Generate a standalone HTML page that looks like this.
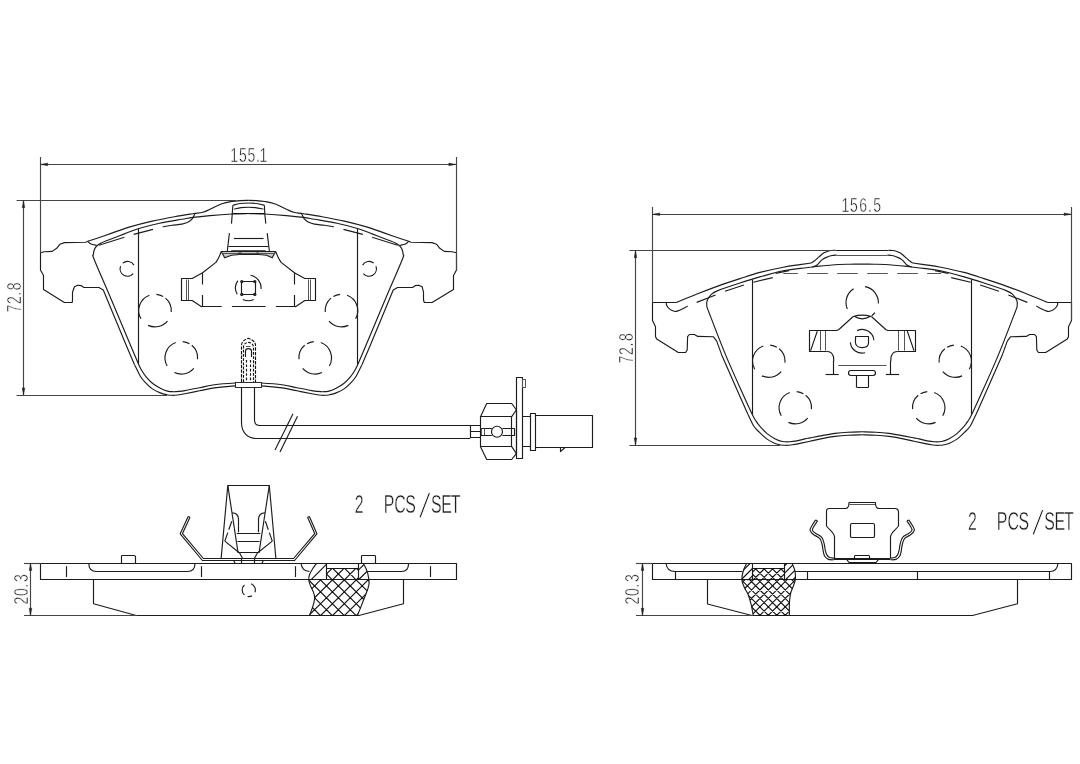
<!DOCTYPE html>
<html lang="en">
<head>
<meta charset="utf-8">
<title>Brake pad set - dimensional drawing</title>
<style>
html,body{margin:0;padding:0;background:#fff;width:1080px;height:764px;overflow:hidden}
svg{display:block;background:#fff;will-change:transform;filter:grayscale(1)}
.l{fill:none;stroke:#1c1c1c;stroke-width:1.15;stroke-linecap:butt;stroke-linejoin:round}
.g{fill:none;stroke:#555;stroke-width:1}
#dimensions .l{stroke:#444}
.h{fill:none;stroke:#111;stroke-width:1.15}
.k{fill:#333;stroke:none}
.w{fill:#fff;stroke:#2b2b2b;stroke-width:1}
.a{fill:#222;stroke:#222;stroke-width:.4}
.t{font-family:"Liberation Sans",sans-serif;fill:#1e1e1e;stroke:#fff;stroke-width:.4px;vector-effect:non-scaling-stroke}
.t .sl{stroke-width:1.1px}
</style>
</head>
<body>
<svg width="1080" height="764" viewBox="0 0 1080 764" role="img" aria-label="Brake pad dimensional drawing">
<rect x="0" y="0" width="1080" height="764" fill="#fff"/>
<g id="front-pad-left">
<path class="l" d="M87.8,241.3 L85.6,242.2 L64.4,242.6 L60,244.2 L56.7,248.3 L52.2,251.4 L44.4,251.7 L40.5,252.8 L40.5,270 L43.5,275.6 L43.5,289.4 L64.4,302.5 L72.2,302.5 L72.5,300 L72.5,292.2 L74.4,286.7 L77.8,285.2 L81.1,285.6 L83.9,287.5 L98.9,287.5 L103.3,290 L107.4,300 L126.1,345 L134.4,364.4"/>
<path class="l" d="M87.8,241.3 C89.83,240.62 95.88,238.6 100,237.2 C104.12,235.8 107.5,234.62 112.5,232.9 C117.5,231.18 123.38,228.87 130,226.9 C136.62,224.93 144.8,222.8 152.2,221.1 C159.6,219.4 167.6,217.93 174.4,216.7 C181.2,215.47 188.3,214.43 193,213.7 C197.7,212.97 199.77,213.03 202.6,212.3 C205.43,211.57 206.77,210.72 210,209.3 C213.23,207.88 218.38,205.1 222,203.8 C225.62,202.5 228.7,202.03 231.7,201.5 C234.7,200.97 237.24,200.78 240,200.6 C242.76,200.42 246.88,200.43 248.25,200.4"/>
<path class="l" d="M134.4,364.4 C135.37,366.33 138.4,373 140.2,376 C142,379 143.17,380.25 145.2,382.4 C147.23,384.55 149.88,387.15 152.4,388.9 C154.92,390.65 157.9,391.93 160.3,392.9 C162.7,393.87 164.87,394.3 166.8,394.7 C168.73,395.1 170.1,395.25 171.9,395.3 C173.7,395.35 175.45,395.25 177.6,395 C179.75,394.75 181.13,394.5 184.8,393.8 C188.47,393.1 194.67,391.78 199.6,390.8 C204.53,389.82 208.47,388.72 214.4,387.9 C220.33,387.08 229.56,386.28 235.2,385.9 C240.84,385.52 246.07,385.65 248.25,385.6"/>
<path class="l" d="M408.7,241.3 L410.9,242.2 L432.1,242.6 L436.5,244.2 L439.8,248.3 L444.3,251.4 L452.1,251.7 L456.5,252.8 L456.5,270 L453.5,275.6 L453.5,289.4 L432.1,302.5 L424.3,302.5 L423.5,300 L423.5,292.2 L422.1,286.7 L418.7,285.2 L415.4,285.6 L412.6,287.5 L397.6,287.5 L393.2,290 L389.1,300 L370.4,345 L362.1,364.4"/>
<path class="l" d="M408.7,241.3 C406.67,240.62 400.62,238.6 396.5,237.2 C392.38,235.8 389,234.62 384,232.9 C379,231.18 373.12,228.87 366.5,226.9 C359.88,224.93 351.7,222.8 344.3,221.1 C336.9,219.4 328.9,217.93 322.1,216.7 C315.3,215.47 308.2,214.43 303.5,213.7 C298.8,212.97 296.73,213.03 293.9,212.3 C291.07,211.57 289.73,210.72 286.5,209.3 C283.27,207.88 278.12,205.1 274.5,203.8 C270.88,202.5 267.8,202.03 264.8,201.5 C261.8,200.97 259.26,200.78 256.5,200.6 C253.74,200.42 249.62,200.43 248.25,200.4"/>
<path class="l" d="M362.1,364.4 C361.13,366.33 358.1,373 356.3,376 C354.5,379 353.33,380.25 351.3,382.4 C349.27,384.55 346.62,387.15 344.1,388.9 C341.58,390.65 338.6,391.93 336.2,392.9 C333.8,393.87 331.63,394.3 329.7,394.7 C327.77,395.1 326.4,395.25 324.6,395.3 C322.8,395.35 321.05,395.25 318.9,395 C316.75,394.75 315.37,394.5 311.7,393.8 C308.03,393.1 301.83,391.78 296.9,390.8 C291.97,389.82 288.03,388.72 282.1,387.9 C276.17,387.08 266.94,386.28 261.3,385.9 C255.66,385.52 250.43,385.65 248.25,385.6"/>
<path class="l" d="M248.25,382.8 C246.07,382.83 240.84,382.68 235.2,383 C229.56,383.32 220.33,383.92 214.4,384.7 C208.47,385.48 204.53,386.72 199.6,387.7 C194.67,388.68 188.23,389.98 184.8,390.6 C181.37,391.22 180.92,391.22 179,391.4 C177.08,391.58 175.22,391.75 173.3,391.7 C171.38,391.65 169.67,391.68 167.5,391.1 C165.33,390.52 162.82,389.52 160.3,388.2 C157.78,386.88 154.8,385.12 152.4,383.2 C150,381.28 147.7,378.87 145.9,376.7 C144.1,374.53 142.8,372.25 141.6,370.2 C140.4,368.15 140.57,368.6 138.7,364.4 C136.83,360.2 134.93,355.73 130.4,345 C125.87,334.27 117.5,314.17 111.5,300 C105.5,285.83 97.42,267.58 94.4,260 C91.38,252.42 93.4,256.25 93.4,254.5 C93.4,252.75 93.85,250.92 94.4,249.5 C94.95,248.08 95.58,247.08 96.7,246 C97.82,244.92 99.25,243.97 101.1,243 C102.95,242.03 103.92,241.72 107.8,240.2 C111.68,238.68 119.22,235.85 124.4,233.9 C129.58,231.95 133.03,230.27 138.9,228.5 C144.77,226.73 152.43,224.83 159.6,223.3 C166.77,221.77 176.33,220.28 181.9,219.3 C187.47,218.32 188.32,218.02 193,217.4 C197.68,216.78 203.5,216.17 210,215.6 C216.5,215.03 225.62,214.35 232,214 C238.38,213.65 245.54,213.58 248.25,213.5"/>
<path class="l" d="M248.25,382.8 C250.43,382.83 255.66,382.68 261.3,383 C266.94,383.32 276.17,383.92 282.1,384.7 C288.03,385.48 291.97,386.72 296.9,387.7 C301.83,388.68 308.27,389.98 311.7,390.6 C315.13,391.22 315.58,391.22 317.5,391.4 C319.42,391.58 321.28,391.75 323.2,391.7 C325.12,391.65 326.83,391.68 329,391.1 C331.17,390.52 333.68,389.52 336.2,388.2 C338.72,386.88 341.7,385.12 344.1,383.2 C346.5,381.28 348.8,378.87 350.6,376.7 C352.4,374.53 353.7,372.25 354.9,370.2 C356.1,368.15 355.93,368.6 357.8,364.4 C359.67,360.2 361.57,355.73 366.1,345 C370.63,334.27 379,314.17 385,300 C391,285.83 399.08,267.58 402.1,260 C405.12,252.42 403.1,256.25 403.1,254.5 C403.1,252.75 402.65,250.92 402.1,249.5 C401.55,248.08 400.92,247.08 399.8,246 C398.68,244.92 397.25,243.97 395.4,243 C393.55,242.03 392.58,241.72 388.7,240.2 C384.82,238.68 377.28,235.85 372.1,233.9 C366.92,231.95 363.47,230.27 357.6,228.5 C351.73,226.73 344.07,224.83 336.9,223.3 C329.73,221.77 320.17,220.28 314.6,219.3 C309.03,218.32 308.18,218.02 303.5,217.4 C298.82,216.78 293,216.17 286.5,215.6 C280,215.03 270.88,214.35 264.5,214 C258.12,213.65 250.96,213.58 248.25,213.5"/>
<path class="l" d="M87.8,241.3 C88.33,241.75 89.52,243.33 91,244 C92.48,244.67 95.75,245.08 96.7,245.3"/>
<path class="l" d="M408.7,241.3 C408.17,241.75 406.98,243.33 405.5,244 C404.02,244.67 400.75,245.08 399.8,245.3"/>
<path class="l" d="M138.5,228.5 L138.5,364.4"/>
<path class="l" d="M357.5,228.5 L357.5,364.4"/>
<path class="l" d="M98.9,245.3 L124.4,237.2"/>
<path class="l" d="M133.7,234.4 L153,229.4"/>
<path class="l" d="M162.6,226.8 C164.17,226.55 168.78,225.75 172,225.3 C175.22,224.85 179.27,224.62 181.9,224.1 C184.53,223.58 186.08,223.07 187.8,222.2 C189.52,221.33 191.1,220.13 192.2,218.9 C193.3,217.67 193.9,215.73 194.4,214.8 C194.9,213.87 195.07,213.55 195.2,213.3"/>
<path class="l" d="M397.6,245.3 L372.1,237.2"/>
<path class="l" d="M362.8,234.4 L343.5,229.4"/>
<path class="l" d="M333.9,226.8 C332.33,226.55 327.72,225.75 324.5,225.3 C321.28,224.85 317.23,224.62 314.6,224.1 C311.97,223.58 310.42,223.07 308.7,222.2 C306.98,221.33 305.4,220.13 304.3,218.9 C303.2,217.67 302.6,215.73 302.1,214.8 C301.6,213.87 301.43,213.55 301.3,213.3"/>
<path class="l" d="M133.17,273.56 A7.4,7.4 0 0 1 120.55,266.27 M122.74,263.13 A7.4,7.4 0 0 1 133.91,265.1"/>
<path class="l" d="M375.95,266.27 A7.4,7.4 0 0 1 363.33,273.56 M362.59,265.1 A7.4,7.4 0 0 1 373.76,263.13"/>
<path class="l" d="M165.48,298.11 A16.3,16.3 0 0 1 171.24,312.02 M167.49,321.08 A16.3,16.3 0 0 1 148.11,325.37 M140.88,318.75 A16.3,16.3 0 0 1 149.43,295.28 M156.42,294.36 A16.3,16.3 0 0 1 163.15,296.48"/>
<path class="l" d="M325.26,312.02 A16.3,16.3 0 0 1 331.02,298.11 M348.39,325.37 A16.3,16.3 0 0 1 329.01,321.08 M347.07,295.28 A16.3,16.3 0 0 1 355.62,318.75 M333.35,296.48 A16.3,16.3 0 0 1 340.08,294.36"/>
<path class="l" d="M191.78,345.31 A16.3,16.3 0 0 1 197.54,359.22 M193.79,368.28 A16.3,16.3 0 0 1 174.41,372.57 M167.18,365.95 A16.3,16.3 0 0 1 175.73,342.48 M182.72,341.56 A16.3,16.3 0 0 1 189.45,343.68"/>
<path class="l" d="M298.96,359.22 A16.3,16.3 0 0 1 304.72,345.31 M322.09,372.57 A16.3,16.3 0 0 1 302.71,368.28 M320.77,342.48 A16.3,16.3 0 0 1 329.32,365.95 M307.05,343.68 A16.3,16.3 0 0 1 313.78,341.56"/>
</g>
<g id="front-pad-clip">
<path class="l" d="M232.9,205.2 C234.08,204.92 237.44,203.87 240,203.5 C242.56,203.13 245.5,203 248.25,203 C251,203 253.81,203.13 256.5,203.5 C259.19,203.87 263.08,204.92 264.4,205.2"/>
<path class="l" d="M234.2,209.1 C235.33,208.85 238.66,207.92 241,207.6 C243.34,207.28 245.83,207.2 248.25,207.2 C250.67,207.2 252.97,207.28 255.5,207.6 C258.02,207.92 262.08,208.85 263.4,209.1"/>
<path class="h" d="M232.2,213.5 L264.8,213.5" stroke-width="1.5"/>
<path class="l" d="M232.9,205.2 L232.2,214.3 L231.5,223.6"/>
<path class="l" d="M264.4,205.2 L264.8,214.3 L265.8,223.6"/>
<path class="l" d="M229.4,233.1 L227.3,251.3"/>
<path class="l" d="M267.2,233.1 L269.4,251.3"/>
<path class="l" d="M233.9,238.5 L263.6,238.5"/>
<path class="l" d="M228.5,246.5 L268.6,246.5"/>
<path class="g" d="M231.2,250.5 L265.7,250.5" stroke-width="1.8" stroke="#8a8a8a"/>
<path class="l" d="M221.2,251.5 L275.7,251.5 L272.2,257.8 L266.5,255.3 L258.9,254.5 L239.6,254.5 L231.6,255.3 L224.7,257.8 Z" style="fill:#c9c9c9"/>
<path class="g" d="M222.5,253.5 L274.5,253.5"/>
<rect class="k" x="238.5" y="252.5" width="3" height="2"/>
<rect class="k" x="256.5" y="252.5" width="2" height="2"/>
<path class="l" d="M221.1,252 C220.73,252.87 219.77,255.47 218.9,257.2 C218.03,258.93 216.4,261.53 215.9,262.4 L215.9,262.4 L202.6,272.8 L192.2,278.5 L181.5,278.5 L181.5,300.5 L192.2,300.5 L201.9,306.9"/>
<path class="l" d="M275.9,252 C276.27,252.87 277.23,255.47 278.1,257.2 C278.97,258.93 280.6,261.53 281.1,262.4 L281.1,262.4 L294.4,272.8 L304.8,278.5 L315.5,278.5 L315.5,300.5 L304.8,300.5 L295.1,306.9"/>
<path class="g" d="M186.5,279.5 L186.5,300"/>
<path class="g" d="M188.5,279.5 L188.5,300"/>
<path class="g" d="M310.5,279.5 L310.5,300"/>
<path class="g" d="M308.5,279.5 L308.5,300"/>
<path class="l" d="M201.3,306.5 H221.7 M231.9,306.5 H265.6 M275.9,306.5 H294.8"/>
<path class="l" d="M202.5,272.8 V284.6 M202.5,295 V306.9 M294.5,272.8 V284.6 M294.5,295 V306.9"/>
<rect class="l" x="241.5" y="281.5" width="14" height="13" rx="0.8"/>
<circle class="l" cx="241.8" cy="281.6" r="1.1"/>
<circle class="l" cx="254.8" cy="281.6" r="1.1"/>
<circle class="l" cx="241.8" cy="294.4" r="1.1"/>
<circle class="l" cx="254.8" cy="294.4" r="1.1"/>
<path class="l" d="M237.21,294.3 A12.8,12.8 0 0 1 237.81,280.56 M250.52,275.29 A12.8,12.8 0 0 1 261.05,289.02 M253.71,299.5 A12.8,12.8 0 0 1 242.89,299.5"/>
</g>
<g id="wear-sensor">
<path class="h" d="M241.5,382 V345.5 C241.5,341.5 244.5,339.6 248.3,338.3 C252.1,339.6 255.5,341.5 255.5,345.5 V382" stroke-width="1.7" stroke-dasharray="3.4 1.2"/>
<path class="h" d="M243.5,382 V347.5 C243.5,344 245.8,342.6 248.3,342.4 C250.8,342.6 253.5,344 253.5,347.5 V382" stroke-width="1.5" stroke-dasharray="2.8 1.4"/>
<path class="l" d="M245.5,357 V351 C245.5,349.4 246.6,348.6 248.3,348.6 C250,348.6 251.5,349.4 251.5,351 V357"/>
<path class="h" d="M246.5,360 V382 M250.5,360 V382" stroke-width="1.4" stroke-dasharray="2.6 1.8"/>
<path class="g" d="M246,346.5 L250.6,346.5"/>
<rect class="w" x="235.5" y="382.5" width="26" height="5"/>
<path class="l" d="M241.5,387.3 V422.5 C241.5,432 247,438.5 257,438.5 H470"/>
<path class="l" d="M254.5,387.3 V420 C254.5,423.4 256.4,425.5 259.4,425.5 H470"/>
<path class="l" d="M275,450 L293,413.8"/>
<path class="l" d="M280,452 L297.5,416.3"/>
</g>
<g id="sensor-connector">
<path class="l" d="M470.5,425.2 V438.3 M470,425.5 H480 M470,437.5 H480 M470,431.5 H480"/>
<path class="l" d="M480.5,416.7 L486.7,403.5 L511.7,403.5 L516.5,410 L516.5,453.3 L511.7,459.5 L486.7,459.5 L480.5,446.7 Z"/>
<path class="l" d="M480,416.5 H511.5 V446.5 H480 M511.7,416.7 L516.3,410 M511.7,446.7 L516.3,453.3"/>
<path class="l" d="M480,428.5 H491.8 M502.4,428.5 H514.5 V435.5 H502.4 M491.8,435.5 H480"/>
<path class="g" d="M481.5,428.4 V435 M484.5,428.4 V435"/>
<circle class="l" cx="497" cy="431.7" r="5.5"/>
<rect class="l" x="516.5" y="377.5" width="6" height="81"/>
<rect class="g" x="522.5" y="379.5" width="3" height="8"/>
<path class="l" d="M522,416.5 H530.4 M522,446.5 H530.4"/>
<rect class="l" x="530.5" y="413.5" width="5" height="37"/>
<path class="l" d="M535.8,415.5 H592.5 V447.5 H535.8"/>
<path class="l" d="M560.5,447.5 L560.5,451.6 L565,447.5"/>
</g>
<g id="front-pad-right">
<path class="l" d="M676.7,302.5 L652.5,302.5 L652.5,320.6 L655.5,326.7 L655.5,336.7 L656.7,338.9 L678.3,352.5 L685.6,352.5 L687.2,350 L687.6,336.7 L689.4,334.5 L694.4,334.5 L697.8,336.4 L713.3,336.7 L716.7,341.1 L721.7,354.9 L739.3,395 L748,414.4"/>
<path class="l" d="M676.7,302.4 C680.08,301 690.15,296.72 697,294 C703.85,291.28 710.63,288.67 717.8,286.1 C724.97,283.53 732.97,280.88 740,278.6 C747.03,276.32 752.78,274.3 760,272.4 C767.22,270.5 776.63,268.5 783.3,267.2 C789.97,265.9 795.37,265.3 800,264.6 C804.63,263.9 809.25,263.27 811.1,263"/>
<path class="l" d="M811.1,263 C811.68,262.63 812.93,262.13 814.6,260.8 C816.27,259.47 819.45,256.37 821.1,255 C822.75,253.63 823.38,253.23 824.5,252.6 C825.62,251.97 826.72,251.55 827.8,251.2 C828.88,250.85 829.7,250.65 831,250.5 C832.3,250.35 834.83,250.33 835.6,250.3"/>
<path class="l" d="M748,414.4 C748.95,416.33 751.78,423 753.7,426 C755.62,429 757.33,430.25 759.5,432.4 C761.67,434.55 764.3,437.15 766.7,438.9 C769.1,440.65 771.75,441.93 773.9,442.9 C776.05,443.87 777.68,444.3 779.6,444.7 C781.52,445.1 783.23,445.28 785.4,445.3 C787.57,445.32 790.2,445.12 792.6,444.8 C795,444.48 796.9,444 799.8,443.4 C802.7,442.8 806.3,442 810,441.2 C813.7,440.4 817.83,439.4 822,438.6 C826.17,437.8 830.67,436.97 835,436.4 C839.33,435.83 843.5,435.47 848,435.2 C852.5,434.93 859.67,434.87 862,434.8"/>
<path class="l" d="M862,431.8 C859.67,431.87 852.5,431.93 848,432.2 C843.5,432.47 839.33,432.83 835,433.4 C830.67,433.97 826.17,434.85 822,435.6 C817.83,436.35 812.83,437.35 810,437.9 C807.17,438.45 807.18,438.4 805,438.9 C802.82,439.4 799.45,440.42 796.9,440.9 C794.35,441.38 792.1,441.7 789.7,441.8 C787.3,441.9 784.9,441.98 782.5,441.5 C780.1,441.02 777.82,440.17 775.3,438.9 C772.78,437.63 769.92,435.93 767.4,433.9 C764.88,431.87 762.12,428.87 760.2,426.7 C758.28,424.53 757.22,422.95 755.9,420.9 C754.58,418.85 754.4,418.72 752.3,414.4 C750.2,410.08 747.75,404.92 743.3,395 C738.85,385.08 731.33,368.7 725.6,354.9 C719.87,341.1 712.02,320.35 708.9,312.2 C705.78,304.05 707.18,307.95 706.9,306 C706.62,304.05 706.5,302.4 707.2,300.5 C707.9,298.6 709.33,296.25 711.1,294.6 C712.87,292.95 712.98,292.53 717.8,290.6 C722.62,288.67 732.98,285.28 740,283 C747.02,280.72 752.68,278.93 759.9,276.9 C767.12,274.87 776.62,272.22 783.3,270.8 C789.98,269.38 795.18,269.03 800,268.4 C804.82,267.77 810.17,267.23 812.2,267"/>
<path class="l" d="M812.2,267 C812.95,266.7 815.03,266.43 816.7,265.2 C818.37,263.97 820.35,261 822.2,259.6 C824.05,258.2 826.17,257.48 827.8,256.8 C829.43,256.12 830.52,255.78 832,255.5 C833.48,255.22 835.92,255.17 836.7,255.1"/>
<path class="l" d="M812.2,267 C812.95,266.9 812.25,266.82 816.7,266.4 C821.15,265.98 833.35,264.87 838.9,264.5 C844.45,264.13 846.15,264.27 850,264.2 C853.85,264.13 860,264.12 862,264.1"/>
<path class="l" d="M666.4,302.4 C666.45,302.93 666.1,304.43 666.7,305.6 C667.3,306.77 668.72,308.45 670,309.4 C671.28,310.35 673.1,311.05 674.4,311.3 C675.7,311.55 675.57,311.77 677.8,310.9 C680.03,310.03 686.13,306.9 687.8,306.1"/>
<path class="l" d="M696.7,302.4 L715.6,295"/>
<path class="l" d="M725,291.2 L743.9,285"/>
<path class="l" d="M753.3,282.2 L772.8,277.6"/>
<path class="l" d="M775.6,273.4 L789,270.6"/>
<path class="l" d="M1047.3,302.5 L1071.5,302.5 L1071.5,320.6 L1068.5,326.7 L1068.5,336.7 L1067.3,338.9 L1045.7,352.5 L1038.4,352.5 L1036.8,350 L1036.4,336.7 L1034.6,334.5 L1029.6,334.5 L1026.2,336.4 L1010.7,336.7 L1007.3,341.1 L1002.3,354.9 L984.7,395 L976,414.4"/>
<path class="l" d="M1047.3,302.4 C1043.92,301 1033.85,296.72 1027,294 C1020.15,291.28 1013.37,288.67 1006.2,286.1 C999.03,283.53 991.03,280.88 984,278.6 C976.97,276.32 971.22,274.3 964,272.4 C956.78,270.5 947.37,268.5 940.7,267.2 C934.03,265.9 928.63,265.3 924,264.6 C919.37,263.9 914.75,263.27 912.9,263"/>
<path class="l" d="M912.9,263 C912.32,262.63 911.07,262.13 909.4,260.8 C907.73,259.47 904.55,256.37 902.9,255 C901.25,253.63 900.62,253.23 899.5,252.6 C898.38,251.97 897.28,251.55 896.2,251.2 C895.12,250.85 894.3,250.65 893,250.5 C891.7,250.35 889.17,250.33 888.4,250.3"/>
<path class="l" d="M976,414.4 C975.05,416.33 972.22,423 970.3,426 C968.38,429 966.67,430.25 964.5,432.4 C962.33,434.55 959.7,437.15 957.3,438.9 C954.9,440.65 952.25,441.93 950.1,442.9 C947.95,443.87 946.32,444.3 944.4,444.7 C942.48,445.1 940.77,445.28 938.6,445.3 C936.43,445.32 933.8,445.12 931.4,444.8 C929,444.48 927.1,444 924.2,443.4 C921.3,442.8 917.7,442 914,441.2 C910.3,440.4 906.17,439.4 902,438.6 C897.83,437.8 893.33,436.97 889,436.4 C884.67,435.83 880.5,435.47 876,435.2 C871.5,434.93 864.33,434.87 862,434.8"/>
<path class="l" d="M862,431.8 C864.33,431.87 871.5,431.93 876,432.2 C880.5,432.47 884.67,432.83 889,433.4 C893.33,433.97 897.83,434.85 902,435.6 C906.17,436.35 911.17,437.35 914,437.9 C916.83,438.45 916.82,438.4 919,438.9 C921.18,439.4 924.55,440.42 927.1,440.9 C929.65,441.38 931.9,441.7 934.3,441.8 C936.7,441.9 939.1,441.98 941.5,441.5 C943.9,441.02 946.18,440.17 948.7,438.9 C951.22,437.63 954.08,435.93 956.6,433.9 C959.12,431.87 961.88,428.87 963.8,426.7 C965.72,424.53 966.78,422.95 968.1,420.9 C969.42,418.85 969.6,418.72 971.7,414.4 C973.8,410.08 976.25,404.92 980.7,395 C985.15,385.08 992.67,368.7 998.4,354.9 C1004.13,341.1 1011.98,320.35 1015.1,312.2 C1018.22,304.05 1016.82,307.95 1017.1,306 C1017.38,304.05 1017.5,302.4 1016.8,300.5 C1016.1,298.6 1014.67,296.25 1012.9,294.6 C1011.13,292.95 1011.02,292.53 1006.2,290.6 C1001.38,288.67 991.02,285.28 984,283 C976.98,280.72 971.32,278.93 964.1,276.9 C956.88,274.87 947.38,272.22 940.7,270.8 C934.02,269.38 928.82,269.03 924,268.4 C919.18,267.77 913.83,267.23 911.8,267"/>
<path class="l" d="M911.8,267 C911.05,266.7 908.97,266.43 907.3,265.2 C905.63,263.97 903.65,261 901.8,259.6 C899.95,258.2 897.83,257.48 896.2,256.8 C894.57,256.12 893.48,255.78 892,255.5 C890.52,255.22 888.08,255.17 887.3,255.1"/>
<path class="l" d="M911.8,267 C911.05,266.9 911.75,266.82 907.3,266.4 C902.85,265.98 890.65,264.87 885.1,264.5 C879.55,264.13 877.85,264.27 874,264.2 C870.15,264.13 864,264.12 862,264.1"/>
<path class="l" d="M1057.6,302.4 C1057.55,302.93 1057.9,304.43 1057.3,305.6 C1056.7,306.77 1055.28,308.45 1054,309.4 C1052.72,310.35 1050.9,311.05 1049.6,311.3 C1048.3,311.55 1048.43,311.77 1046.2,310.9 C1043.97,310.03 1037.87,306.9 1036.2,306.1"/>
<path class="l" d="M1027.3,302.4 L1008.4,295"/>
<path class="l" d="M999,291.2 L980.1,285"/>
<path class="l" d="M970.7,282.2 L951.2,277.6"/>
<path class="l" d="M948.4,273.4 L935,270.6"/>
<path class="l" d="M835.6,250.5 L888.4,250.5"/>
<path class="g" d="M836.7,255.5 L887.3,255.5"/>
<path class="g" d="M783.3,273.5 L941,273.5" stroke-dasharray="20.6 9.4" stroke-dashoffset="6.1" stroke-width="1.3"/>
<path class="l" d="M752.5,279.4 L752.5,414.2"/>
<path class="l" d="M971.5,279.4 L971.5,414.2"/>
<path class="l" d="M847.29,308.93 A16.2,16.2 0 0 1 853.62,288.86 M865.01,286.65 A16.2,16.2 0 0 1 878.38,303.45 M874.97,312.57 A16.2,16.2 0 0 1 871.72,315.71"/>
<path class="l" d="M779.16,348.79 A16.2,16.2 0 0 1 784.89,362.61 M781.16,371.61 A16.2,16.2 0 0 1 761.9,375.88 M754.72,369.3 A16.2,16.2 0 0 1 763.21,345.98 M770.16,345.06 A16.2,16.2 0 0 1 776.85,347.17"/>
<path class="l" d="M939.11,362.61 A16.2,16.2 0 0 1 944.84,348.79 M962.1,375.88 A16.2,16.2 0 0 1 942.84,371.61 M960.79,345.98 A16.2,16.2 0 0 1 969.28,369.3 M947.15,347.17 A16.2,16.2 0 0 1 953.84,345.06"/>
<path class="l" d="M805.71,395.29 A16.2,16.2 0 0 1 811.44,409.11 M807.71,418.11 A16.2,16.2 0 0 1 788.45,422.38 M781.27,415.8 A16.2,16.2 0 0 1 789.76,392.48 M796.71,391.56 A16.2,16.2 0 0 1 803.4,393.67"/>
<path class="l" d="M912.56,409.11 A16.2,16.2 0 0 1 918.29,395.29 M935.55,422.38 A16.2,16.2 0 0 1 916.29,418.11 M934.24,392.48 A16.2,16.2 0 0 1 942.73,415.8 M920.6,393.67 A16.2,16.2 0 0 1 927.29,391.56"/>
</g>
<g id="right-pad-clip">
<path class="l" d="M853.2,316.5 L838.6,329.7 L836.5,330.5 L809.5,330.5 L809.5,351.5 L826.8,351.5"/>
<path class="l" d="M826.8,351.25 C827.5,351.48 829.9,351.73 831,352.6 C832.1,353.48 832.94,355.1 833.4,356.5 C833.86,357.9 833.69,360.25 833.75,361 L833.5,361 L833.5,374.5"/>
<path class="g" d="M820.5,331 L820.5,350.6"/>
<path class="g" d="M825.5,331 L825.5,350.6"/>
<path class="h" d="M817.3,331.1 L810.6,350.6" stroke-width="1.8"/>
<path class="l" d="M825.5,374.5 L838.75,374.5"/>
<path class="l" d="M871.4,316.5 L886,329.7 L888.1,330.5 L915.5,330.5 L915.5,351.5 L897.8,351.5"/>
<path class="l" d="M897.8,351.25 C897.1,351.48 894.7,351.73 893.6,352.6 C892.5,353.48 891.66,355.1 891.2,356.5 C890.74,357.9 890.91,360.25 890.85,361 L890.5,361 L890.5,374.5"/>
<path class="g" d="M904.5,331 L904.5,350.6"/>
<path class="g" d="M898.5,331 L898.5,350.6"/>
<path class="h" d="M907.3,331.1 L914,350.6" stroke-width="1.8"/>
<path class="l" d="M899.1,374.5 L885.85,374.5"/>
<path class="l" d="M853.2,316.5 Q862.2,313.8 871.3,316.5 M854.6,316.6 Q862.2,321 870,316.6"/>
<path class="l" d="M855.6,336.5 H868.5 V343 C868.5,346.2 865.6,347.6 862,347.6 C858.4,347.6 855.4,345.6 855.4,342 Z" stroke-width="1.2"/>
<path class="l" d="M857.11,330.61 A11.8,11.8 0 0 1 873.86,340.27 M865.15,352.7 A11.8,11.8 0 0 1 850.34,342.33"/>
<path class="g" d="M838.3,365.5 L886.5,365.5" stroke-width="1.2"/>
<rect class="l" x="848.5" y="370.5" width="27" height="5" rx="2.4"/>
<path class="l" d="M856.5,375.6 V386 Q856,387.4 857.4,387.5 H867.4 Q868.8,387.4 868.5,386 V375.6"/>
</g>
<g id="side-view-left">
<path class="l" d="M40.5,563.5 L456.5,563.5 L456.5,579.5 L40.5,579.5 Z"/>
<path class="l" d="M88.75,563.3 C88.75,568.5 91.5,571.5 96.5,571.5 H187.5 C192.5,571.5 195,568.5 195,563.3"/>
<path class="l" d="M301,563.3 C301.5,568 304.5,571.2 309.5,571.5"/>
<path class="l" d="M367.6,571.5 H401.5 C406,571.5 408.6,568.5 408.6,563.3"/>
<path class="l" d="M66.5,566.2 L66.5,577"/>
<path class="l" d="M201.5,566.2 L201.5,577"/>
<path class="l" d="M295.5,566.2 L295.5,577"/>
<path class="l" d="M430.5,566.2 L430.5,577"/>
<path class="l" d="M121.5,563.3 V556.6 Q121.25,555.7 122.2,555.5 H134.1 Q135,555.7 135.5,556.6 V563.3"/>
<path class="l" d="M361.5,563.3 V556.6 Q361.3,555.7 362.2,555.5 H374.7 Q375.6,555.7 375.5,556.6 V563.3"/>
<path class="l" d="M93.5,579.5 L93.5,603.75 L136.25,615.5 L358.9,615.5 L403.5,603.8 L403.5,579.5"/>
<path class="l" d="M244.51,595.06 A6.6,6.6 0 0 1 244.51,584.94 M251.01,583.8 A6.6,6.6 0 0 1 254.95,592.26 M252.05,595.72 A6.6,6.6 0 0 1 247.6,596.5"/>
<path class="l" d="M316.6,563.3 C315.92,564.25 313.7,567.05 312.5,569 C311.3,570.95 310.02,573.13 309.4,575 C308.78,576.87 308.6,578.37 308.8,580.2 C309,582.03 309.85,584.05 310.6,586 C311.35,587.95 312.63,590.07 313.3,591.9 C313.97,593.73 314.48,595.28 314.6,597 C314.72,598.72 314.43,600.2 314,602.2 C313.57,604.2 312.77,606.78 312,609 C311.23,611.22 309.83,614.42 309.4,615.5"/>
<path class="l" d="M363.2,563.3 C363.67,564.17 365.23,566.77 366,568.5 C366.77,570.23 367.28,571.32 367.8,573.7 C368.32,576.08 369.1,580.25 369.1,582.8 C369.1,585.35 368.45,586.85 367.8,589 C367.15,591.15 366.38,592.63 365.2,595.7 C364.02,598.77 362,604.1 360.7,607.4 C359.4,610.7 357.95,614.15 357.4,615.5"/>
<path class="l" d="M326.5,563.3 V579.5 H309 M326.3,568.5 H358.1 M358.5,563.3 V579.5 H369"/>
<clipPath id="hl"><path d="M308.8,579.5 C308.8,579.62 308.5,579.12 308.8,580.2 C309.1,581.28 309.85,584.05 310.6,586 C311.35,587.95 312.63,590.07 313.3,591.9 C313.97,593.73 314.48,595.28 314.6,597 C314.72,598.72 314.43,600.2 314,602.2 C313.57,604.2 312.77,606.78 312,609 C311.23,611.22 309.83,614.42 309.4,615.5 L357.4,615.5 L360.7,607.4 L365.2,595.7 L367.8,589 L369.1,582.8 L369,579.5 L358.1,579.5 L358.1,568.3 L326.3,568.3 L326.3,579.5 Z"/></clipPath>
<path class="h" d="M40.65,550 L120.65,630 M124.35,550 L44.35,630 M52.55,550 L132.55,630 M136.25,550 L56.25,630 M64.45,550 L144.45,630 M148.15,550 L68.15,630 M76.35,550 L156.35,630 M160.05,550 L80.05,630 M88.25,550 L168.25,630 M171.95,550 L91.95,630 M100.15,550 L180.15,630 M183.85,550 L103.85,630 M112.05,550 L192.05,630 M195.75,550 L115.75,630 M123.95,550 L203.95,630 M207.65,550 L127.65,630 M135.85,550 L215.85,630 M219.55,550 L139.55,630 M147.75,550 L227.75,630 M231.45,550 L151.45,630 M159.65,550 L239.65,630 M243.35,550 L163.35,630 M171.55,550 L251.55,630 M255.25,550 L175.25,630 M183.45,550 L263.45,630 M267.15,550 L187.15,630 M195.35,550 L275.35,630 M279.05,550 L199.05,630 M207.25,550 L287.25,630 M290.95,550 L210.95,630 M219.15,550 L299.15,630 M302.85,550 L222.85,630 M231.05,550 L311.05,630 M314.75,550 L234.75,630 M242.95,550 L322.95,630 M326.65,550 L246.65,630 M254.85,550 L334.85,630 M338.55,550 L258.55,630 M266.75,550 L346.75,630 M350.45,550 L270.45,630 M278.65,550 L358.65,630 M362.35,550 L282.35,630 M290.55,550 L370.55,630 M374.25,550 L294.25,630 M302.45,550 L382.45,630 M386.15,550 L306.15,630 M314.35,550 L394.35,630 M398.05,550 L318.05,630 M326.25,550 L406.25,630 M409.95,550 L329.95,630 M338.15,550 L418.15,630 M421.85,550 L341.85,630 M350.05,550 L430.05,630 M433.75,550 L353.75,630 M361.95,550 L441.95,630 M445.65,550 L365.65,630 M373.85,550 L453.85,630 M457.55,550 L377.55,630 M385.75,550 L465.75,630 M469.45,550 L389.45,630 M397.65,550 L477.65,630 M481.35,550 L401.35,630 M409.55,550 L489.55,630 M493.25,550 L413.25,630 M421.45,550 L501.45,630 M505.15,550 L425.15,630 M433.35,550 L513.35,630 M517.05,550 L437.05,630 M445.25,550 L525.25,630 M528.95,550 L448.95,630 M457.15,550 L537.15,630 M540.85,550 L460.85,630 M469.05,550 L549.05,630 M552.75,550 L472.75,630 M480.95,550 L560.95,630 M564.65,550 L484.65,630 M492.85,550 L572.85,630 M576.55,550 L496.55,630 M504.75,550 L584.75,630 M588.45,550 L508.45,630" clip-path="url(#hl)"/>
<clipPath id="hl1"><path d="M316.6,563.3 C315.92,564.25 313.7,567.05 312.5,569 C311.3,570.95 310.02,573.13 309.4,575 C308.78,576.87 308.9,579.33 308.8,580.2 L326.3,579.5 L326.3,563.3 Z"/></clipPath>
<path class="h" d="M300,590.8 L330,560.8" clip-path="url(#hl1)"/>
<clipPath id="hl2"><path d="M363.2,563.3 C363.67,564.17 365.23,566.77 366,568.5 C366.77,570.23 367.28,571.32 367.8,573.7 C368.32,576.08 368.88,581.28 369.1,582.8 L358.1,579.5 L358.1,563.3 Z"/></clipPath>
<path class="h" d="M350,578.5 L380,548.5 M350,588.4 L380,558.4" clip-path="url(#hl2)"/>
</g>
<g id="side-clip-left">
<path class="l" d="M188.2,516.5 L180.2,533.8 L202.4,560.5 L294.6,560.5 L316.9,533.8 L309.4,516.5"/>
<path class="l" d="M190,517.3 L182.5,533.6 L203.4,558.5 L293.6,558.5 L314.7,533.6 L307.6,517.3"/>
<path class="l" d="M188.2,516.5 L190,517.3"/>
<path class="l" d="M309.4,516.5 L307.6,517.3"/>
<path class="l" d="M221.1,558.6 L227.8,485.5 L269.3,485.5 L275.9,558.6"/>
<path class="l" d="M227.8,485.3 L238.1,553"/>
<path class="l" d="M269.3,485.3 L259,553"/>
<path class="l" d="M224.8,541.1 L239.6,553"/>
<path class="l" d="M272.3,541.1 L257.4,553"/>
<path class="l" d="M224.8,541.1 L232.2,520" stroke-dasharray="9 3"/>
<path class="l" d="M272.3,541.1 L264.9,520" stroke-dasharray="9 3"/>
<path class="l" d="M232.2,512.8 C236,512.8 238.3,515 238.5,519 V532.2 M264.9,512.8 C261,512.8 258.7,515 258.5,519 V532.2"/>
<path class="l" d="M236.7,533.5 H260.4 M237.4,541.5 H259.6 M238.9,552.5 H258.1"/>
<path class="l" d="M239.6,553 L242.6,558.5 L254.4,558.5 L257.4,553"/>
<path class="l" d="M241.5,558.6 V563.3 M254.5,558.6 V563.3"/>
<path class="l" d="M233.7,560.4 L235.2,563.5 L261.9,563.5 L263.3,560.4"/>
</g>
<g id="side-view-right">
<path class="l" d="M652.5,563.5 L1071.5,563.5 L1071.5,579.5 L652.5,579.5 Z"/>
<path class="l" d="M666,563.3 C666.5,568 669.5,571.5 675,571.5 H742.5 M795,571.5 H1050 C1055,571.5 1057.6,568 1058,563.3"/>
<path class="l" d="M675.5,571.4 V579.5 M807.5,571.4 V579.5 M917.5,571.4 V579.5 M1049.5,571.4 V579.5"/>
<path class="l" d="M707.5,579.5 L707.5,604 L751.9,615.5 L972.5,615.5 L1017.5,603.75 L1017.5,579.5"/>
<path class="l" d="M746.7,563.3 C746.18,564.42 744.37,567.87 743.6,570 C742.83,572.13 742.35,574.22 742.1,576.1 C741.85,577.98 741.68,579.32 742.1,581.3 C742.52,583.28 743.62,585.83 744.6,588 C745.58,590.17 746.9,591.53 748,594.3 C749.1,597.07 750.33,601.07 751.2,604.6 C752.07,608.13 752.87,613.68 753.2,615.5"/>
<path class="l" d="M792,563.3 C792.37,564.17 793.65,566.8 794.2,568.5 C794.75,570.2 795.12,571.58 795.3,573.5 C795.48,575.42 795.68,577.75 795.3,580 C794.92,582.25 793.77,584.83 793,587 C792.23,589.17 791.3,590.28 790.7,593 C790.1,595.72 789.62,599.55 789.4,603.3 C789.18,607.05 789.4,613.47 789.4,615.5"/>
<path class="l" d="M752.5,563.3 V579.5 H742 M752.5,568.5 H784.3 M784.5,563.3 V579.5 H795.3"/>
<clipPath id="hr"><path d="M742.1,579.5 C742.1,579.8 741.68,579.88 742.1,581.3 C742.52,582.72 743.62,585.83 744.6,588 C745.58,590.17 746.9,591.53 748,594.3 C749.1,597.07 750.33,601.07 751.2,604.6 C752.07,608.13 752.87,613.68 753.2,615.5 L789.4,615.5 L789.4,603.3 L790.7,593 L793,587 L795.3,580 L795.3,579.5 L784.3,579.5 L784.3,568.3 L752.5,568.3 L752.5,579.5 Z"/></clipPath>
<path class="h" d="M551.3,550 L631.3,630 M622.9,550 L542.9,630 M559.73,550 L639.73,630 M631.33,550 L551.33,630 M568.16,550 L648.16,630 M639.76,550 L559.76,630 M576.59,550 L656.59,630 M648.19,550 L568.19,630 M585.02,550 L665.02,630 M656.62,550 L576.62,630 M593.45,550 L673.45,630 M665.05,550 L585.05,630 M601.88,550 L681.88,630 M673.48,550 L593.48,630 M610.31,550 L690.31,630 M681.91,550 L601.91,630 M618.74,550 L698.74,630 M690.34,550 L610.34,630 M627.17,550 L707.17,630 M698.77,550 L618.77,630 M635.6,550 L715.6,630 M707.2,550 L627.2,630 M644.03,550 L724.03,630 M715.63,550 L635.63,630 M652.46,550 L732.46,630 M724.06,550 L644.06,630 M660.89,550 L740.89,630 M732.49,550 L652.49,630 M669.32,550 L749.32,630 M740.92,550 L660.92,630 M677.75,550 L757.75,630 M749.35,550 L669.35,630 M686.18,550 L766.18,630 M757.78,550 L677.78,630 M694.61,550 L774.61,630 M766.21,550 L686.21,630 M703.04,550 L783.04,630 M774.64,550 L694.64,630 M711.47,550 L791.47,630 M783.07,550 L703.07,630 M719.9,550 L799.9,630 M791.5,550 L711.5,630 M728.33,550 L808.33,630 M799.93,550 L719.93,630 M736.76,550 L816.76,630 M808.36,550 L728.36,630 M745.19,550 L825.19,630 M816.79,550 L736.79,630 M753.62,550 L833.62,630 M825.22,550 L745.22,630 M762.05,550 L842.05,630 M833.65,550 L753.65,630 M770.48,550 L850.48,630 M842.08,550 L762.08,630 M778.91,550 L858.91,630 M850.51,550 L770.51,630 M787.34,550 L867.34,630 M858.94,550 L778.94,630 M795.77,550 L875.77,630 M867.37,550 L787.37,630 M804.2,550 L884.2,630 M875.8,550 L795.8,630 M812.63,550 L892.63,630 M884.23,550 L804.23,630 M821.06,550 L901.06,630 M892.66,550 L812.66,630 M829.49,550 L909.49,630 M901.09,550 L821.09,630 M837.92,550 L917.92,630 M909.52,550 L829.52,630 M846.35,550 L926.35,630 M917.95,550 L837.95,630 M854.78,550 L934.78,630 M926.38,550 L846.38,630 M863.21,550 L943.21,630 M934.81,550 L854.81,630 M871.64,550 L951.64,630 M943.24,550 L863.24,630 M880.07,550 L960.07,630 M951.67,550 L871.67,630" clip-path="url(#hr)"/>
<clipPath id="hr1"><path d="M746.7,563.3 C746.18,564.42 744.37,567.87 743.6,570 C742.83,572.13 742.35,574.22 742.1,576.1 C741.85,577.98 742.1,580.43 742.1,581.3 L752.5,579.5 L752.5,563.3 Z"/></clipPath>
<path class="h" d="M622.9,550 L542.9,630 M630.3,550 L550.3,630 M637.7,550 L557.7,630 M645.1,550 L565.1,630 M652.5,550 L572.5,630 M659.9,550 L579.9,630 M667.3,550 L587.3,630 M674.7,550 L594.7,630 M682.1,550 L602.1,630 M689.5,550 L609.5,630 M696.9,550 L616.9,630 M704.3,550 L624.3,630 M711.7,550 L631.7,630 M719.1,550 L639.1,630 M726.5,550 L646.5,630 M733.9,550 L653.9,630 M741.3,550 L661.3,630 M748.7,550 L668.7,630 M756.1,550 L676.1,630 M763.5,550 L683.5,630 M770.9,550 L690.9,630 M778.3,550 L698.3,630 M785.7,550 L705.7,630 M793.1,550 L713.1,630 M800.5,550 L720.5,630 M807.9,550 L727.9,630 M815.3,550 L735.3,630 M822.7,550 L742.7,630 M830.1,550 L750.1,630 M837.5,550 L757.5,630 M844.9,550 L764.9,630 M852.3,550 L772.3,630 M859.7,550 L779.7,630 M867.1,550 L787.1,630 M874.5,550 L794.5,630 M881.9,550 L801.9,630 M889.3,550 L809.3,630 M896.7,550 L816.7,630 M904.1,550 L824.1,630 M911.5,550 L831.5,630" clip-path="url(#hr1)"/>
<clipPath id="hr2"><path d="M792,563.3 C792.37,564.17 793.65,566.8 794.2,568.5 C794.75,570.2 795.12,571.58 795.3,573.5 C795.48,575.42 795.3,578.92 795.3,580 L784.3,579.5 L784.3,563.3 Z"/></clipPath>
<path class="h" d="M659.8,550 L579.8,630 M667.2,550 L587.2,630 M674.6,550 L594.6,630 M682,550 L602,630 M689.4,550 L609.4,630 M696.8,550 L616.8,630 M704.2,550 L624.2,630 M711.6,550 L631.6,630 M719,550 L639,630 M726.4,550 L646.4,630 M733.8,550 L653.8,630 M741.2,550 L661.2,630 M748.6,550 L668.6,630 M756,550 L676,630 M763.4,550 L683.4,630 M770.8,550 L690.8,630 M778.2,550 L698.2,630 M785.6,550 L705.6,630 M793,550 L713,630 M800.4,550 L720.4,630 M807.8,550 L727.8,630 M815.2,550 L735.2,630 M822.6,550 L742.6,630 M830,550 L750,630 M837.4,550 L757.4,630 M844.8,550 L764.8,630 M852.2,550 L772.2,630 M859.6,550 L779.6,630 M867,550 L787,630 M874.4,550 L794.4,630 M881.8,550 L801.8,630 M889.2,550 L809.2,630 M896.6,550 L816.6,630 M904,550 L824,630 M911.4,550 L831.4,630 M918.8,550 L838.8,630 M926.2,550 L846.2,630 M933.6,550 L853.6,630 M941,550 L861,630 M948.4,550 L868.4,630" clip-path="url(#hr2)"/>
</g>
<g id="side-clip-right">
<path class="l" d="M834.5,558 V537 C834.5,533 830.1,530.5 826.5,526 V511.5 Q826.4,508.3 829.6,508.5 H845.6 C848,508.5 849,505.7 849,502.5 H875.4 C875.4,505.7 876.4,508.5 878.9,508.5 H894.9 Q898.1,508.3 898.5,511.5 V526 C894.9,530.5 890.5,533 890.5,537 V558"/>
<path class="g" d="M849.4,504.5 L875,504.5" stroke-width="1.6"/>
<rect class="l" x="850.5" y="523.5" width="24" height="14" rx="1.6"/>
<path class="l" d="M854.5,558 V556.4 Q854.6,555.3 855.8,555.5 H868.2 Q869.4,555.3 869.5,556.4 V558"/>
<path class="l" d="M815.7,519.9 C815.08,520.83 812.93,523.77 812,525.5 C811.07,527.23 809.85,528.8 810.1,530.3 C810.35,531.8 811.87,533.12 813.5,534.5 C815.13,535.88 818.45,536.85 819.9,538.6 C821.35,540.35 821.65,542.92 822.2,545 C822.75,547.08 822.8,549.27 823.2,551.1 C823.6,552.93 823.73,554.62 824.6,556 C825.47,557.38 826.83,558.77 828.4,559.4 C829.97,560.03 833.07,559.73 834,559.8"/>
<path class="l" d="M817.5,521 C816.92,521.87 814.85,524.67 814,526.2 C813.15,527.73 812.17,529.03 812.4,530.2 C812.63,531.37 813.83,532.02 815.4,533.2 C816.97,534.38 820.32,535.43 821.8,537.3 C823.28,539.17 823.72,542.22 824.3,544.4 C824.88,546.58 824.9,548.7 825.3,550.4 C825.7,552.1 825.98,553.4 826.7,554.6 C827.42,555.8 828.38,557.02 829.6,557.6 C830.82,558.18 833.27,558.02 834,558.1"/>
<path class="l" d="M815.7,519.9 L817.5,521"/>
<path class="l" d="M908.7,519.9 C909.32,520.83 911.47,523.77 912.4,525.5 C913.33,527.23 914.55,528.8 914.3,530.3 C914.05,531.8 912.53,533.12 910.9,534.5 C909.27,535.88 905.95,536.85 904.5,538.6 C903.05,540.35 902.75,542.92 902.2,545 C901.65,547.08 901.6,549.27 901.2,551.1 C900.8,552.93 900.67,554.62 899.8,556 C898.93,557.38 897.57,558.77 896,559.4 C894.43,560.03 891.33,559.73 890.4,559.8"/>
<path class="l" d="M906.9,521 C907.48,521.87 909.55,524.67 910.4,526.2 C911.25,527.73 912.23,529.03 912,530.2 C911.77,531.37 910.57,532.02 909,533.2 C907.43,534.38 904.08,535.43 902.6,537.3 C901.12,539.17 900.68,542.22 900.1,544.4 C899.52,546.58 899.5,548.7 899.1,550.4 C898.7,552.1 898.42,553.4 897.7,554.6 C896.98,555.8 896.02,557.02 894.8,557.6 C893.58,558.18 891.13,558.02 890.4,558.1"/>
<path class="l" d="M908.7,519.9 L906.9,521"/>
<path class="l" d="M834,559.5 H890.4 M834,558.5 H890.4"/>
<path class="l" d="M847,559.8 L849,562.5 L876,562.5 L878.2,559.8"/>
</g>
<g id="dimensions">
<path class="l" d="M40.5,157 L40.5,252.5"/>
<path class="l" d="M456.5,157 L456.5,271"/>
<path class="l" d="M40.5,164.5 L456,164.5"/>
<path class="a" d="M40.5,164.4 L47.7,163.05 L47.7,165.75 Z"/>
<path class="a" d="M456,164.4 L448.8,163.05 L448.8,165.75 Z"/>
<path class="l" d="M16.5,200.5 L236,200.5"/>
<path class="l" d="M16.5,395.5 L167,395.5"/>
<path class="l" d="M23.5,200.3 L23.5,395.3"/>
<path class="a" d="M23.5,200.5 L22.15,207.7 L24.85,207.7 Z"/>
<path class="a" d="M23.5,395.1 L22.15,387.9 L24.85,387.9 Z"/>
<path class="l" d="M24,563.5 L41,563.5"/>
<path class="l" d="M24,615.5 L137,615.5"/>
<path class="l" d="M30.5,563.25 L30.5,615.5"/>
<path class="a" d="M30.5,563.25 L29.15,570.45 L31.85,570.45 Z"/>
<path class="a" d="M30.5,615.5 L29.15,608.3 L31.85,608.3 Z"/>
<path class="l" d="M652.5,207 L652.5,302.5"/>
<path class="l" d="M1071.5,207 L1071.5,320"/>
<path class="l" d="M652.5,214.5 L1071.25,214.5"/>
<path class="a" d="M652.5,214.25 L659.7,212.9 L659.7,215.6 Z"/>
<path class="a" d="M1071.25,214.25 L1064.05,212.9 L1064.05,215.6 Z"/>
<path class="l" d="M629.5,250.5 L835,250.5"/>
<path class="l" d="M629.5,445.5 L780,445.5"/>
<path class="l" d="M635.5,250.3 L635.5,445.3"/>
<path class="a" d="M635.5,250.5 L634.15,257.7 L636.85,257.7 Z"/>
<path class="a" d="M635.5,445.1 L634.15,437.9 L636.85,437.9 Z"/>
<path class="l" d="M636,563.5 L653,563.5"/>
<path class="l" d="M636,615.5 L753,615.5"/>
<path class="l" d="M642.5,563.25 L642.5,615.5"/>
<path class="a" d="M642.5,563.25 L641.15,570.45 L643.85,570.45 Z"/>
<path class="a" d="M642.5,615.5 L641.15,608.3 L643.85,608.3 Z"/>
</g>
<g id="labels">
<text class="t" transform="translate(231,161.9) scale(0.68,1)" x="-1.21 11.79 24.29 36.84 41.88" y="0" font-size="20.6">155.1</text>
<text class="t" transform="translate(843,211.9) scale(0.68,1)" x="-2.23 10.47 24.05 36.84 44.59" y="0" font-size="20.6">156.5</text>
<text class="t" transform="translate(21.3,313) rotate(-90) scale(0.68,1)" x="0.59 13.1 25.52 33.54" y="0" font-size="20.6">72.8</text>
<text class="t" transform="translate(633.3,363.8) rotate(-90) scale(0.68,1)" x="0.59 13.1 25.52 33.54" y="0" font-size="20.6">72.8</text>
<text class="t" transform="translate(28,605.2) rotate(-90) scale(0.68,1)" x="0.89 13.39 25.81 34.04" y="0" font-size="20.6">20.3</text>
<text class="t" transform="translate(639.4,605.2) rotate(-90) scale(0.68,1)" x="0.89 13.39 25.81 34.04" y="0" font-size="20.6">20.3</text>
<text class="t" transform="translate(354,512.9) scale(0.62,1)" font-size="25.6" xml:space="preserve" style="white-space:pre"><tspan x="1.11 15.11 29.11 47.86 64.95 82.76" y="0">2  PCS</tspan><tspan class="sl" x="104.8" y="4.2" font-size="39" rotate="16.5">/</tspan><tspan x="124.21 140.8 156.22" y="0" rotate="0">SET</tspan></text>
<text class="t" transform="translate(967.2,529.7) scale(0.62,1)" font-size="25.6" xml:space="preserve" style="white-space:pre"><tspan x="1.11 15.11 29.11 47.86 64.95 82.76" y="0">2  PCS</tspan><tspan class="sl" x="104.8" y="4.2" font-size="39" rotate="16.5">/</tspan><tspan x="124.21 140.8 156.22" y="0" rotate="0">SET</tspan></text>
</g>
</svg>
</body>
</html>
